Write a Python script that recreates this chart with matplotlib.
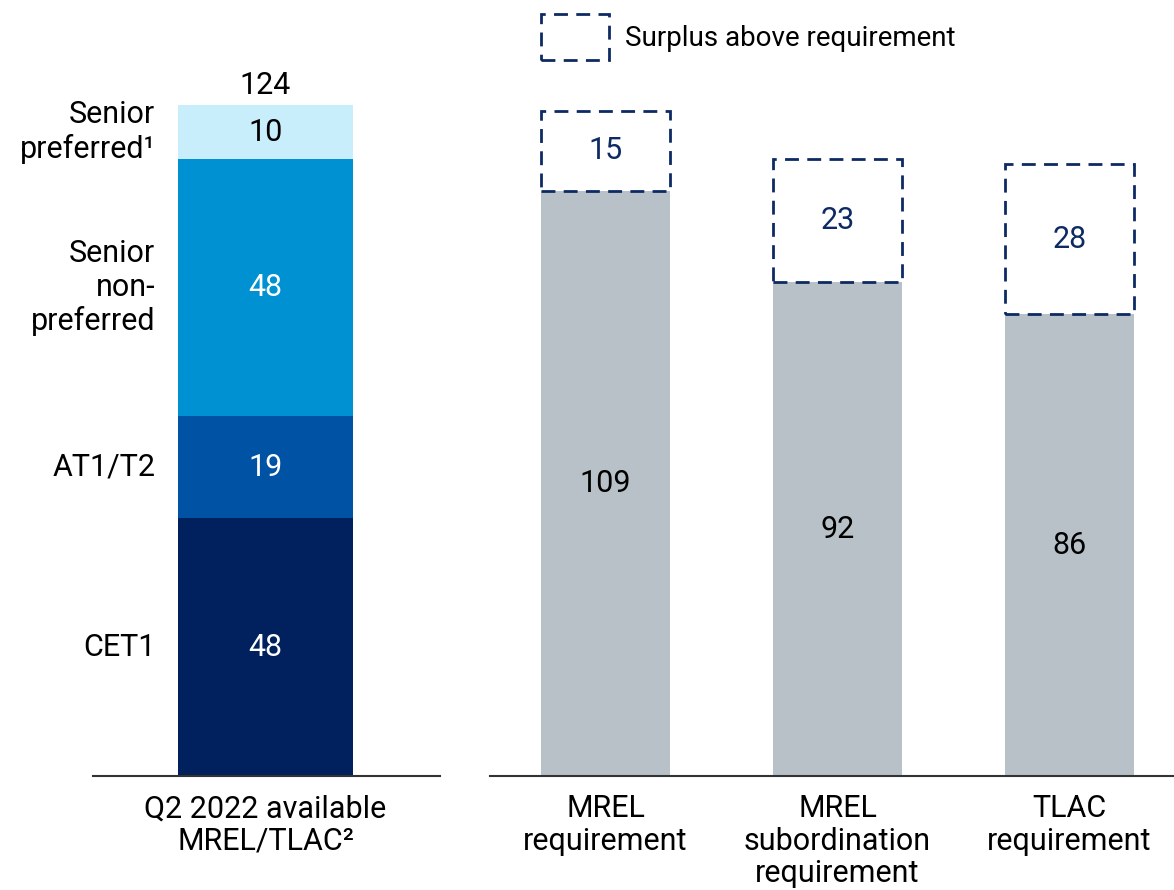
import matplotlib
matplotlib.use("Agg")
import matplotlib.pyplot as plt
from matplotlib.patches import Patch

plt.rcParams['font.family'] = ['Roboto', 'DejaVu Sans']

# Available MREL/TLAC stack (bottom to top)
stack_labels = ["CET1", "AT1/T2", "Senior\nnon-\npreferred", "Senior\npreferred¹"]
stack_values = [48, 19, 48, 10]
stack_total = 124
stack_colors = ["#00215E", "#0052A5", "#0091D2", "#C8EEFC"]
stack_text_colors = ["white", "white", "white", "black"]
left_category = ["Q2 2022 available\nMREL/TLAC²"]

# Requirements and surplus
req_categories = ["MREL\nrequirement", "MREL\nsubordination\nrequirement", "TLAC\nrequirement"]
req_values = [109, 92, 86]
surplus_values = [15, 23, 28]

GREY = "#B7C1C7"
NAVY = "#0D2A63"
FS = 22

fig = plt.figure(figsize=(11.74, 8.9), dpi=100)
ax1 = fig.add_axes([93/1174, 114/890, (440-93)/1174, 776/890])
ax2 = fig.add_axes([490/1174, 114/890, (1174-490)/1174, 776/890])

ymax = 144.6
for ax in (ax1, ax2):
    ax.set_ylim(0, ymax)
    for s in ("top", "right", "left"):
        ax.spines[s].set_visible(False)
    ax.spines["bottom"].set_color("#333333")
    ax.spines["bottom"].set_linewidth(1.5)
    ax.set_yticks([])
    ax.tick_params(axis="x", length=0, pad=13, labelsize=FS)

# Left stacked bar
bottom = 0
for lab, v, c, tc in zip(stack_labels, stack_values, stack_colors, stack_text_colors):
    ax1.bar(0, v, bottom=bottom, width=1.0, color=c, edgecolor="none")
    ax1.text(0, bottom + v / 2, str(v), ha="center", va="center", color=tc, fontsize=FS)
    ax1.text(-0.63, bottom + v / 2, lab, ha="right", va="center", color="black",
             fontsize=FS, linespacing=1.2)
    bottom += v
ax1.text(0, bottom + 1.0, str(stack_total), ha="center", va="bottom", color="black", fontsize=FS)
ax1.set_xlim(-0.986, 0.997)
ax1.set_xticks([0])
ax1.set_xticklabels(left_category, linespacing=1.15)

# Right: requirement bars with dashed surplus boxes
xs = list(range(len(req_categories)))
w = 0.556
ax2.bar(xs, req_values, width=w, color=GREY, edgecolor="none")
ax2.bar(xs, surplus_values, bottom=req_values, width=w, facecolor="none",
        edgecolor=NAVY, linewidth=2.0, linestyle=(0, (5, 3)))
for x, r, s in zip(xs, req_values, surplus_values):
    ax2.text(x, r / 2, str(r), ha="center", va="center", color="black", fontsize=FS)
    ax2.text(x, r + s / 2, str(s), ha="center", va="center", color=NAVY, fontsize=FS)
ax2.set_xlim(-0.498, 2.45)
ax2.set_xticks(xs)
ax2.set_xticklabels(req_categories, linespacing=1.15)

handle = Patch(facecolor="none", edgecolor=NAVY, linewidth=2.0, linestyle=(0, (5, 3)))
ax2.legend([handle], ["Surplus above requirement"], loc="upper left",
           bbox_to_anchor=(0.0746, 0.982), frameon=False, fontsize=20,
           handlelength=2.45, handleheight=2.17, handletextpad=0.58,
           borderpad=0, borderaxespad=0)

fig.savefig("out.png", dpi=100)
